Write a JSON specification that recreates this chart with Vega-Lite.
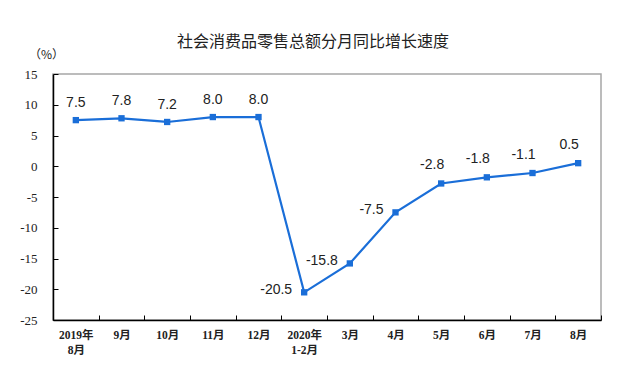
{
  "$schema": "https://vega.github.io/schema/vega-lite/v6.json",
  "width": 548,
  "height": 246,
  "autosize": {"type": "none"},
  "padding": {"left": 53, "top": 74, "right": 19, "bottom": 56},
  "background": "white",
  "config": {
    "locale": {"number": {"decimal": ".", "thousands": ",", "grouping": [3], "currency": ["", ""], "minus": "-"}},
    "view": {"stroke": "#a6a6a6", "strokeWidth": 1.5}
  },
  "title": {
    "text": "社会消费品零售总额分月同比增长速度",
    "font": "Noto Sans CJK SC",
    "fontSize": 16,
    "fontWeight": "normal",
    "color": "#222222",
    "anchor": "middle",
    "dx": -14,
    "offset": -2
  },
  "data": {
    "values": [
      {"month": "2019年|8月", "v": 7.5},
      {"month": "9月", "v": 7.8},
      {"month": "10月", "v": 7.2},
      {"month": "11月", "v": 8.0},
      {"month": "12月", "v": 8.0},
      {"month": "2020年|1-2月", "v": -20.5},
      {"month": "3月", "v": -15.8},
      {"month": "4月", "v": -7.5},
      {"month": "5月", "v": -2.8},
      {"month": "6月", "v": -1.8},
      {"month": "7月", "v": -1.1},
      {"month": "8月", "v": 0.5}
    ]
  },
  "encoding": {
    "x": {
      "field": "month",
      "type": "nominal",
      "sort": null,
      "scale": {"type": "band", "paddingInner": 0, "paddingOuter": 0},
      "axis": {
        "title": null,
        "tickBand": "extent",
        "tickSize": -5,
        "tickColor": "#000000",
        "domainColor": "#000000",
        "domainWidth": 1.5,
        "labelAngle": 0,
        "labelExpr": "split(datum.label, '|')",
        "labelFont": "Liberation Serif, Noto Sans CJK SC",
        "labelFontSize": 11.5,
        "labelFontWeight": "bold",
        "labelColor": "#222222",
        "labelPadding": 14,
        "labelLineHeight": 15,
        "labelBaseline": "top"
      }
    },
    "y": {
      "field": "v",
      "type": "quantitative",
      "scale": {"domain": [-25, 15], "nice": false, "zero": false},
      "axis": {
        "title": "（%）",
        "titleAngle": 0,
        "titleX": -7,
        "titleY": -20,
        "titleAlign": "center",
        "titleBaseline": "middle",
        "titleFont": "Noto Sans CJK SC",
        "titleFontSize": 12,
        "titleFontWeight": "normal",
        "titleColor": "#222222",
        "values": [-25, -20, -15, -10, -5, 0, 5, 10, 15],
        "grid": false,
        "tickSize": -5,
        "tickColor": "#000000",
        "domainColor": "#000000",
        "domainWidth": 1.5,
        "labelFont": "Liberation Serif",
        "labelFontSize": 13,
        "labelColor": "#222222",
        "labelPadding": 21
      }
    }
  },
  "layer": [
    {"mark": {"type": "line", "color": "#1a6ed8", "strokeWidth": 2.2}},
    {"mark": {"type": "point", "shape": "square", "filled": true, "opacity": 1, "size": 40, "color": "#1a6ed8"}},
    {
      "transform": [{"filter": {"field": "month", "oneOf": ["2019年|8月", "9月", "10月", "11月", "12月"]}}],
      "mark": {"type": "text", "font": "Liberation Sans", "fontSize": 14, "color": "#222222", "align": "center", "baseline": "bottom", "dy": -10},
      "encoding": {"text": {"field": "v", "type": "quantitative", "format": ".1f"}}
    },
    {
      "transform": [{"filter": {"field": "month", "oneOf": ["2020年|1-2月", "3月", "4月"]}}],
      "mark": {"type": "text", "font": "Liberation Sans", "fontSize": 14, "color": "#222222", "align": "right", "baseline": "middle", "dx": -12, "dy": -2},
      "encoding": {"text": {"field": "v", "type": "quantitative", "format": ".1f"}}
    },
    {
      "transform": [{"filter": {"field": "month", "oneOf": ["5月", "6月", "7月", "8月"]}}],
      "mark": {"type": "text", "font": "Liberation Sans", "fontSize": 14, "color": "#222222", "align": "center", "baseline": "bottom", "dx": -9, "dy": -11},
      "encoding": {"text": {"field": "v", "type": "quantitative", "format": ".1f"}}
    }
  ]
}
